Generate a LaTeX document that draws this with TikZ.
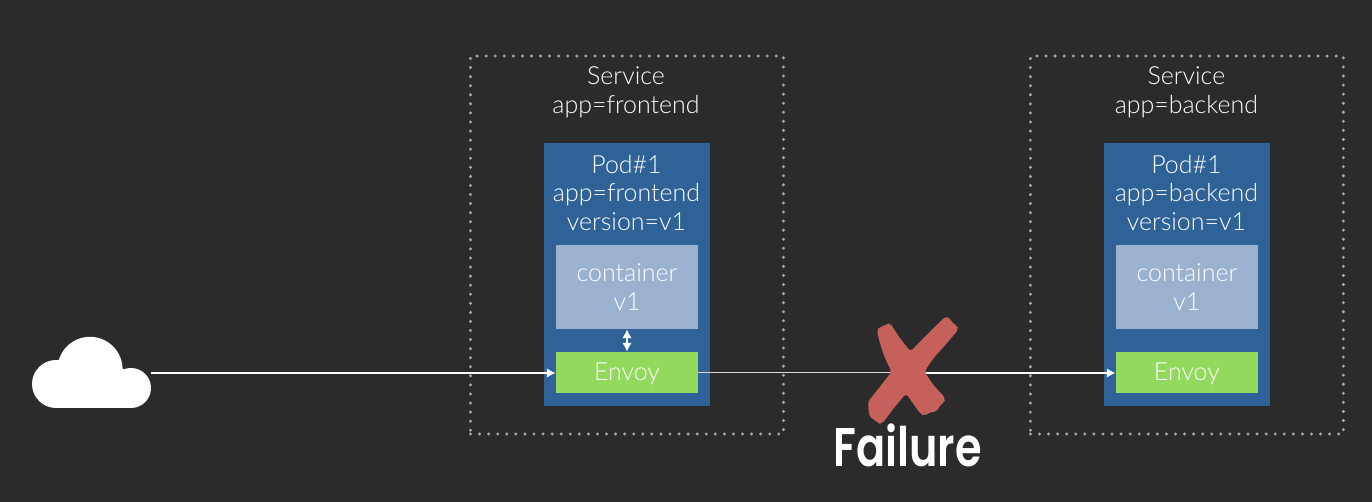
\documentclass[tikz,border=0pt]{standalone}
\usepackage{fontspec}
\setmainfont{Lato}[UprightFont=* Light]
\newfontfamily\failfont{Poppins}[UprightFont=* SemiBold]
\usetikzlibrary{arrows.meta}
\definecolor{bgdark}{HTML}{2B2B2B}
\definecolor{podblue}{HTML}{2F6398}
\definecolor{ctrblue}{HTML}{9AB2CF}
\definecolor{envoygreen}{HTML}{92D95E}
\definecolor{crossred}{HTML}{C6605A}
\tikzset{
  svcbox/.style={draw=gray!70!white,line width=1.9pt,line cap=round,dash pattern=on 0pt off 5.16pt,minimum width=6.26cm,minimum height=7.56cm,inner sep=0pt},
  podbox/.style={fill=podblue,minimum width=3.32cm,minimum height=5.26cm,inner sep=0pt},
  ctrbox/.style={fill=ctrblue,minimum width=2.84cm,minimum height=1.68cm,inner sep=0pt,align=center},
  envoybox/.style={fill=envoygreen,minimum width=2.84cm,minimum height=0.82cm,inner sep=0pt,text height=9.6pt,text depth=0pt},
  txt/.style={text=white,font=\fontsize{14.2}{16.44}\selectfont,align=center,inner sep=0pt},
  flow/.style={white,line width=1.13pt,-{Latex[length=5pt,width=5.5pt]}},
}
\begin{document}
\begin{tikzpicture}[x=0.02cm,y=-0.02cm]
\fill[bgdark] (0,0) rectangle (1372,502);
% cloud
\fill[white] (56,384) circle[radius=24];
\fill[white] (131,388) circle[radius=20];
\fill[white] (90,369.4) circle[radius=32.6];
\fill[white] (56,369) rectangle (131,408);
\coordinate (cloud) at (151,373);
% frontend
\node[svcbox] (svcA) at (627,245) {};
\node[txt] (svcAtxt) at (626,92.5) {Service\\app=frontend};
\node[podbox] (podA) at (627,274.5) {};
\node[txt] (podAtxt) at (626.5,193) {Pod\#1\\app=frontend\\version=v1};
\node[ctrbox,txt] (ctrA) at (627,287) {container\\v1};
\node[envoybox,txt] (envoyA) at (627,372.5) {Envoy};
% backend
\begin{scope}[xshift=11.2cm]
\node[svcbox] (svcB) at (627,245) {};
\node[txt] (svcBtxt) at (626.5,92.5) {Service\\app=backend};
\node[podbox] (podB) at (627,274.5) {};
\node[txt] (podBtxt) at (626.5,193) {Pod\#1\\app=backend\\version=v1};
\node[ctrbox,txt] (ctrB) at (627,287) {container\\v1};
\node[envoybox,txt] (envoyB) at (627,372.5) {Envoy};
\end{scope}
\coordinate (cross) at (908,372.5);
\coordinate (crossR) at (908,373);
% connectors
\draw[flow] (cloud) -- (cloud-|envoyA.west);
\draw[white,line width=1.13pt,{Latex[length=5pt,width=5.5pt]}-{Latex[length=5pt,width=5.5pt]}] (ctrA.south) -- (envoyA.north);
\draw[white!85!black,line width=1.13pt] (envoyA.east) -- (cross);
\draw[flow] (crossR) -- (crossR-|envoyB.west);
% red cross
\begin{scope}[shift={(800,300)},scale=0.3333]
\fill[crossred,rounded corners=2pt] (230,90)--(240,82)--(262,72)--(272,70)--(278,82)--(300,115)--(332,155)--(350,135)--(400,85)--(438,48)--(452,58)--(456,70)--(470,75)--(476,88)--(440,130)--(400,175)--(373,215)--(400,255)--(437,295)--(430,310)--(415,320)--(412,335)--(395,335)--(385,340)--(372,348)--(360,340)--(318,280)--(285,320)--(245,373)--(235,370)--(222,358)--(208,350)--(205,330)--(208,322)--(202,308)--(240,260)--(275,215)--(255,175)--(240,130)--cycle;
\end{scope}
\node[text=white,inner sep=0pt,xscale=0.79,font=\failfont\fontsize{31}{31}\selectfont] (fail) at (907.5,445) {Failure};
\end{tikzpicture}
\end{document}
